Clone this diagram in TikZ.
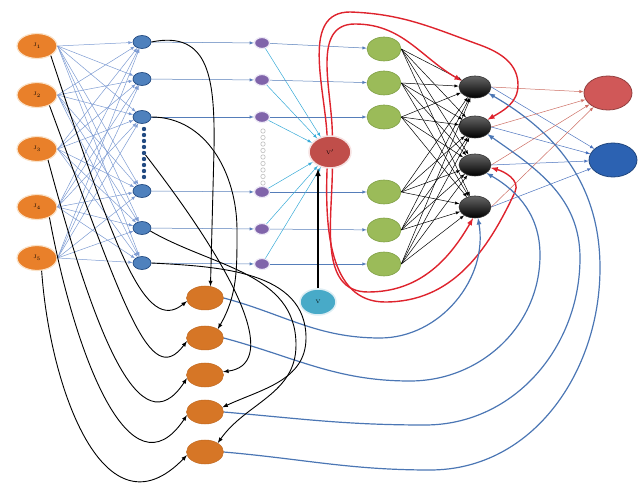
\documentclass[tikz,border=0pt]{standalone}
\usetikzlibrary{shapes.geometric}

\definecolor{jorange}{RGB}{233,128,42}
\definecolor{jrim}{RGB}{250,226,200}
\definecolor{borange}{RGB}{214,118,38}
\definecolor{hblue}{RGB}{79,129,189}
\definecolor{hrim}{RGB}{35,75,130}
\definecolor{purp}{RGB}{128,100,170}
\definecolor{prim}{RGB}{236,232,246}
\definecolor{vred}{RGB}{192,78,74}
\definecolor{vrim}{RGB}{246,226,226}
\definecolor{vcyan}{RGB}{72,170,200}
\definecolor{vcrim}{RGB}{222,238,244}
\definecolor{grn}{RGB}{155,187,89}
\definecolor{grnrim}{RGB}{128,160,70}
\definecolor{outred}{RGB}{208,88,88}
\definecolor{outblue}{RGB}{44,98,178}
\definecolor{fanblue}{RGB}{125,155,210}
\definecolor{rowblue}{RGB}{85,125,185}
\definecolor{cyanline}{RGB}{55,170,215}
\definecolor{loopred}{RGB}{222,35,45}
\definecolor{backblue}{RGB}{75,118,180}
\definecolor{tored}{RGB}{205,110,100}
\definecolor{toblue}{RGB}{75,115,190}

\begin{document}
\begin{tikzpicture}[> = latex, x = 1pt, y = -1pt,
	neuron/.style = {ellipse, draw, inner sep = 0pt, font = \tiny},
	innode/.style = {neuron, fill = jorange, draw = jrim, line width = 1.2pt, minimum width = 40pt, minimum height = 25pt},
	hidnode/.style = {neuron, fill = hblue, draw = hrim, line width = 0.7pt, minimum width = 18pt, minimum height = 13pt},
	hiddot/.style = {circle, fill = hrim, inner sep = 0pt, minimum size = 4.4pt},
	purnode/.style = {neuron, fill = purp, draw = prim, line width = 1.2pt, minimum width = 15pt, minimum height = 11pt},
	purdot/.style = {circle, fill = white, draw = gray!50, line width = 0.6pt, inner sep = 0pt, minimum size = 4.4pt},
	vpnode/.style = {neuron, fill = vred, draw = vrim, line width = 1.5pt, minimum width = 42pt, minimum height = 32pt},
	vnode/.style = {neuron, fill = vcyan, draw = vcrim, line width = 1.5pt, minimum width = 36pt, minimum height = 26pt},
	grnnode/.style = {neuron, fill = grn, draw = grnrim, line width = 0.6pt, minimum width = 34pt, minimum height = 24pt},
	blknode/.style = {neuron, top color = black!60, bottom color = black, draw = black!80, line width = 0.6pt, minimum width = 32pt, minimum height = 22pt},
	outnode/.style = {neuron, line width = 0.8pt, minimum width = 48pt, minimum height = 34pt},
	botnode/.style = {neuron, fill = borange, draw = borange!90!black, line width = 0.5pt, minimum width = 37pt, minimum height = 24pt},
	thinline/.style = {->, line width = 0.5pt},
	redloop/.style = {->, draw = loopred, line width = 1.4pt},
	backline/.style = {->, draw = backblue, line width = 1.2pt},
	feedline/.style = {->, draw = black, line width = 0.9pt}]

	\useasboundingbox (0, 0) rectangle (643, 486);

	% Input layer and hidden layer
	
	\foreach \i/\y in {1/46, 2/95, 3/149, 4/207, 5/258}
		\node [innode] (in\i) at (37, \y) {$\mathrm{J}_\i$};
	\foreach \i/\y in {1/42, 2/79, 3/117, 4/191, 5/228, 6/263}
		\node [hidnode] (hid\i) at (142, \y) {};
	\foreach \k in {0, ..., 8}
		\node [hiddot] (hdot\k) at (144, {129 + 6 * \k}) {};
	
	% Purple layer, V' and V
	
	\foreach \i/\y in {1/43, 2/80, 3/117, 4/192, 5/229, 6/264}
		\node [purnode] (pur\i) at (262, \y) {};
	\foreach \k in {0, ..., 8}
		\node [purdot] (pdot\k) at (263, {131 + 6.5 * \k}) {};
	
	\node [vpnode] (vp) at (330, 152) {$\mathrm{V}'$};
	\node [vnode] (v) at (318, 302) {V};
	
	% Green layer, black layer and outputs
	
	\foreach \i/\y in {1/49, 2/83, 3/117, 4/192, 5/230, 6/264}
		\node [grnnode] (grn\i) at (384, \y) {};
	\foreach \i/\y in {1/87, 2/127, 3/165, 4/207}
		\node [blknode] (blk\i) at (475, \y) {};
	
	\node [outnode, fill = outred, draw = outred!70!black] (outr) at (608, 93) {};
	\node [outnode, fill = outblue, draw = outblue!70!black] (outb) at (613, 160) {};
	
	% Bottom nodes
	
	\foreach \i/\y in {1/298, 2/338, 3/375, 4/412, 5/452}
		\node [botnode] (bot\i) at (205, \y) {};
	
	% Forward connections
	
	\foreach \i in {1, ..., 5}
		\foreach \j in {1, ..., 6}
			\draw [thinline, fanblue] (in\i.east) -- (hid\j);
	
	\foreach \j in {1, ..., 6} {
		\draw [thinline, rowblue] (hid\j) -- (pur\j);
		\draw [thinline, rowblue] (pur\j) -- (grn\j);
		\draw [thinline, cyanline] (pur\j) -- (vp);
	}
	
	\foreach \i in {1, ..., 6}
		\foreach \j in {1, ..., 4}
			\draw [thinline, black] (grn\i.east) -- (blk\j);
	
	\foreach \j in {1, ..., 4} {
		\draw [thinline, tored] (blk\j.east) -- (outr);
		\draw [thinline, toblue] (blk\j.east) -- (outb);
	}
	
	\draw [->, line width = 1.5pt] (v) -- (v |- vp.south);
	
	% Red loops from V'
	
	\draw [redloop] (vp.82) to [out = 90, in = 180] (355, 24) to [out = 0, in = 150] (blk1.155);
	\draw [redloop] (vp.100) to [out = 93, in = 180] (350, 12) to [out = -2, in = 160] (480, 45) to [out = -20, in = 90] (518, 85) to [out = -90, in = 30] (blk2.30);
	\draw [redloop] (vp.-82) to [out = -90, in = 180] (368, 292) to [out = 0, in = -120] (blk4.-100);
	\draw [redloop] (vp.-100) to [out = -92, in = 180] (385, 302) to [out = 0, in = -115] (515, 192) to [out = 65, in = -15] (blk3.-10);
	
	% Blue feedback curves
	
	\draw [backline] (bot1.east) to [out = -15, in = 180] (380, 338) to [out = 0, in = -80] (blk4.-75);
	\draw [backline] (bot2.east) to [out = -15, in = 180] (410, 381) to [out = 0, in = -90] (540, 255) to [out = 90, in = -30] (blk3.-35);
	\draw [backline] (bot4.east) to [out = -5, in = 180] (425, 425) to [out = 0, in = -90] (580, 258) to [out = 90, in = -35] (blk2.-30);
	\draw [backline] (bot5.east) to [out = -5, in = 180] (430, 470) to [out = 0, in = -90] (600, 268) to [out = 90, in = -30] (blk1.-25);
	
	% Black curves into the bottom nodes
	
	\draw [feedline] (in1.-35) .. controls (115, 250) and (145, 335) .. (bot1.190);
	\draw [feedline] (in2.-40) .. controls (125, 310) and (150, 390) .. (bot2.190);
	\draw [feedline] (in3.-45) .. controls (95, 335) and (140, 450) .. (bot3.190);
	\draw [feedline] (in4.-40) .. controls (75, 355) and (130, 500) .. (bot4.190);
	\draw [feedline] (in5.-70) .. controls (50, 390) and (105, 540) .. (bot5.190);
	
	\draw [feedline] (hid1.east) .. controls (210, 30) and (215, 80) .. (214, 150) -- (bot1.65);
	\draw [feedline] (hid3.east) to [out = 0, in = 90] (237, 230) to [out = -90, in = 60] (bot2.35);
	\draw [feedline] (hdot4) .. controls (250, 290) and (275, 365) .. (bot3.10);
	\draw [feedline] (hid6.east) to [out = -3, in = 90] (306, 338) to [out = -90, in = 25] (bot4.15);
	\draw [feedline] (hid5.-20) to [out = -30, in = 90] (296, 345) to [out = -90, in = 55] (bot5.35);

\end{tikzpicture}
\end{document}
